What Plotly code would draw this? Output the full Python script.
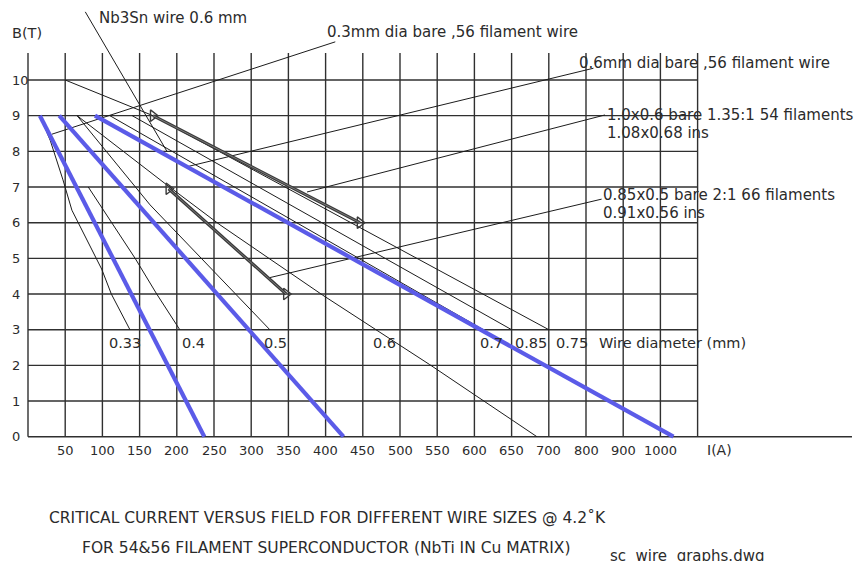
import numpy as np
import plotly.graph_objects as go

# ---------------- data ----------------
# x axis: non-uniform current scale (50 A steps up to 700, then 100 A steps)
x_tick_values = [50, 100, 150, 200, 250, 300, 350, 400, 450, 500, 550, 600, 650, 700, 800, 900, 1000]
x_tick_labels = [str(v) for v in x_tick_values]
x_grid_end = 1100          # last (unlabelled) vertical grid line
x_axis_end = 1515          # bottom axis line runs on past the grid
y_tick_values = [0, 1, 2, 3, 4, 5, 6, 7, 8, 9, 10]
y_tick_labels = [str(v) for v in y_tick_values]
y_grid_top = 10.76

# thick blue curves (I in A, B in T)
blue_a_I = [16, 237]
blue_a_B = [9, 0]
blue_b_I = [42, 424]
blue_b_B = [9, 0]
blue_c_I = [90, 1035]
blue_c_B = [9, 0]

# thick dark curves (rectangular wires)
rect_a_I = [168, 446]
rect_a_B = [9, 6]
rect_b_I = [189, 347]
rect_b_B = [6.95, 4.0]

# thin wire-diameter curves
d033_I = [16, 30, 47, 59, 99, 112, 137]
d033_B = [9, 8.3, 7.2, 6.35, 4.7, 4.0, 3.0]
d04_I = [81, 144, 173, 204]
d04_B = [7.0, 5.0, 4.0, 3.0]
d05_I = [66, 164, 325]
d05_B = [9, 6.5, 3.0]
d06_I = [66, 184, 258, 396, 540, 684]
d06_B = [9, 7.1, 5.94, 3.97, 2.02, 0]
d07_I = [110, 612]
d07_B = [9, 3.0]
d085_I = [140, 650]
d085_B = [9, 3.0]
d075_I = [50, 168, 700]
d075_B = [10, 9, 3.0]

diameter_labels = ["0.33", "0.4", "0.5", "0.6", "0.7", "0.85", "0.75", "Wire diameter (mm)"]

# leader lines (start on curve -> end at note), I in A, B in T
leader_nb3sn_I = [77, 187];   leader_nb3sn_B = [11.91, 7.99]
leader_03_I = [32, 413];      leader_03_B = [8.48, 11.07]
leader_06_I = [214, 820];     leader_06_B = [7.57, 10.33]
leader_10_I = [375, 851];     leader_10_B = [6.86, 9.02]
leader_085_I = [325, 842];    leader_085_B = [4.46, 6.66]

notes = [
    "Nb3Sn wire 0.6 mm",
    "0.3mm dia bare ,56 filament wire",
    "0.6mm dia bare ,56 filament wire",
    "1.0x0.6 bare 1.35:1 54 filaments",
    "1.08x0.68 ins",
    "0.85x0.5 bare 2:1 66 filaments",
    "0.91x0.56 ins",
]
title_lines = [
    "CRITICAL CURRENT VERSUS FIELD FOR DIFFERENT WIRE SIZES @ 4.2˚K",
    "FOR 54&56 FILAMENT SUPERCONDUCTOR (NbTi IN Cu MATRIX)",
]
file_note = "sc  wire  graphs.dwg"

# ---------------- scale helpers ----------------
W, H = 859, 561
PX_X0, PX_XSTEP = 28.0, 37.2      # pixel of I=0 and width of one tick step
PX_Y0, PX_YSTEP = 436.7, 35.67    # pixel of B=0 and height of 1 T


def xpos(amps):
    a = np.asarray(amps, dtype=float)
    return np.where(a <= 700, a / 50.0, 14 + (a - 700) / 100.0)


def ax_x(px):
    return (px - PX_X0) / PX_XSTEP


def ax_y(py):
    return (PX_Y0 - py) / PX_YSTEP


FONT = "DejaVu Sans"
TXT = "#2b2b2b"
GRID = "#303030"

fig = go.Figure()

# ---------------- grid ----------------
gx, gy = [], []
for v in [0] + x_tick_values + [x_grid_end]:
    p = float(xpos(v))
    gx += [p, p, None]
    gy += [0, y_grid_top, None]
for v in y_tick_values[1:]:
    gx += [0, float(xpos(x_grid_end)), None]
    gy += [v, v, None]
gx += [0, float(xpos(x_axis_end)), None]
gy += [0, 0, None]
fig.add_trace(go.Scatter(x=gx, y=gy, mode="lines",
                         line=dict(color=GRID, width=1.4), hoverinfo="skip"))

# ---------------- thin curves ----------------
thin = [(d033_I, d033_B), (d04_I, d04_B), (d05_I, d05_B), (d06_I, d06_B),
        (d07_I, d07_B), (d085_I, d085_B), (d075_I, d075_B)]
for I, B in thin:
    fig.add_trace(go.Scatter(x=xpos(I), y=B, mode="lines",
                             line=dict(color="#1c1c1c", width=1.0), hoverinfo="skip"))

# leaders
for I, B in [(leader_nb3sn_I, leader_nb3sn_B), (leader_03_I, leader_03_B),
             (leader_06_I, leader_06_B), (leader_10_I, leader_10_B),
             (leader_085_I, leader_085_B)]:
    fig.add_trace(go.Scatter(x=xpos(I), y=B, mode="lines",
                             line=dict(color="#1c1c1c", width=1.0), hoverinfo="skip"))

# ---------------- thick dark (rectangular) curves ----------------
for I, B in [(rect_a_I, rect_a_B), (rect_b_I, rect_b_B)]:
    fig.add_trace(go.Scatter(x=xpos(I), y=B, mode="lines+markers",
                             line=dict(color="#3a3a3a", width=3.2),
                             marker=dict(symbol="triangle-right-open", size=10,
                                         color="#3a3a3a", line=dict(width=1.4)),
                             hoverinfo="skip"))
    fig.add_trace(go.Scatter(x=xpos(I), y=B, mode="lines",
                             line=dict(color="#8a8a8a", width=0.8), hoverinfo="skip"))

# ---------------- blue curves ----------------
for I, B in [(blue_a_I, blue_a_B), (blue_b_I, blue_b_B), (blue_c_I, blue_c_B)]:
    fig.add_trace(go.Scatter(x=xpos(I), y=B, mode="lines",
                             line=dict(color="#5b5be8", width=4.2), hoverinfo="skip"))

# ---------------- text ----------------
ann = []


def text(s, x, y, size, xanchor="left"):
    ann.append(dict(text=s, x=x, y=y, xref="x", yref="y", showarrow=False,
                    xanchor=xanchor, yanchor="middle",
                    font=dict(family=FONT, size=size, color=TXT)))


for v, lab in zip(x_tick_values, x_tick_labels):
    text(lab, float(xpos(v)), ax_y(450), 13, "center")
text("I(A)", ax_x(719), ax_y(450), 14, "center")
for v, lab in zip(y_tick_values, y_tick_labels):
    text(lab, ax_x(10), v, 13)
text("B(T)", ax_x(10), ax_y(33), 14.5)

diam_left_px = [107, 180, 262, 371, 478, 513, 554, 597]
for lab, px in zip(diameter_labels, diam_left_px):
    text(lab, ax_x(px), ax_y(342.5), 14.5)

note_pos = [(97, 18), (325, 32), (577, 63), (605, 115), (605, 133), (601, 195), (601, 213)]
for s, (px, py) in zip(notes, note_pos):
    text(s, ax_x(px), ax_y(py), 15)

text(title_lines[0], ax_x(47), ax_y(518), 15.5)
text(title_lines[1], ax_x(80), ax_y(548), 15.5)
text(file_note, ax_x(608), ax_y(556), 15)

fig.update_layout(
    width=W, height=H,
    margin=dict(l=0, r=0, t=0, b=0),
    paper_bgcolor="white", plot_bgcolor="white",
    showlegend=False,
    annotations=ann,
    xaxis=dict(range=[ax_x(0), ax_x(W)], visible=False, fixedrange=True),
    yaxis=dict(range=[ax_y(H), ax_y(0)], visible=False, fixedrange=True),
)

fig.write_html("out.html")
